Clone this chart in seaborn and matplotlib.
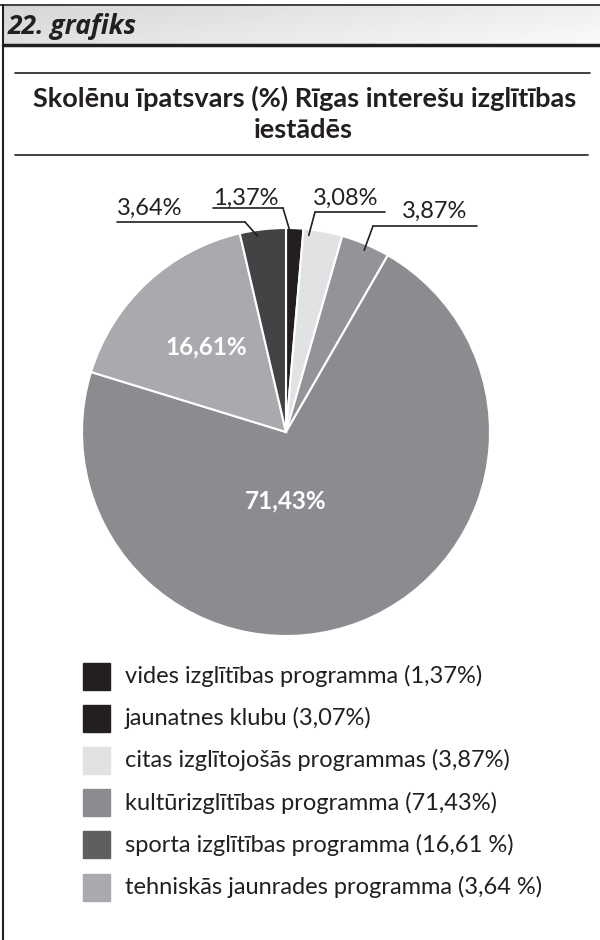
import numpy as np
import matplotlib.pyplot as plt
from matplotlib.patches import Rectangle
import seaborn as sns

# pie slices, clockwise from the top
slice_values = [1.37, 3.08, 3.87, 71.43, 16.61, 3.64]
slice_colors = ['#231f20', '#e1e2e4', '#939497', '#8b8c8f', '#a9aaad', '#424345']
outer_texts = ['1,37%', '3,08%', '3,87%', None, None, '3,64%']
inner_texts = [None, None, None, '71,43%', '16,61%', None]

legend_labels = ['vides izglītības programma (1,37%)',
                 'jaunatnes klubu (3,07%)',
                 'citas izglītojošās programmas (3,87%)',
                 'kultūrizglītības programma (71,43%)',
                 'sporta izglītības programma (16,61 %)',
                 'tehniskās jaunrades programma (3,64 %)']
legend_colors = ['#231f20', '#231f20', '#e1e2e4', '#8b8c8f', '#5e5f61', '#a9aaad']

header = '22. grafiks'
title1 = 'Skolēnu īpatsvars (%) Rīgas interešu izglītības'
title2 = 'iestādēs'

sns.set_theme(style='white')
plt.rcParams['font.family'] = ['Lato', 'DejaVu Sans']

W, H = 600, 940
def Y(y):
    return H - y

fig = plt.figure(figsize=(6, 9.4), dpi=100)
ax = fig.add_axes([0, 0, 1, 1])
ink = '#231f20'

cx, cy, R = 286, Y(432), 204
wedges, _ = ax.pie(slice_values, colors=slice_colors, startangle=90, counterclock=False,
                   center=(cx, cy), radius=R,
                   wedgeprops=dict(edgecolor='white', linewidth=1.5))
ax.set_xlim(0, W)
ax.set_ylim(0, H)
ax.set_aspect('equal')
ax.axis('off')

# header band
gx = np.linspace(0, 1, 300)
gy = np.linspace(0, 1, 40)[:, None]
grad = 0.84 + 0.10 * gx[None, :] + 0.04 * gy
ax.imshow(grad, cmap='gray', vmin=0, vmax=1, extent=(4, W, Y(44), Y(6)), aspect='auto', zorder=0)
ax.plot([0, W], [Y(5), Y(5)], color=ink, lw=1.2)
ax.plot([3, W], [Y(45), Y(45)], color=ink, lw=2.5)
ax.plot([3, 3], [Y(5), 0], color=ink, lw=1.5)
ax.text(8, Y(34), header, fontsize=19, fontweight='bold', fontstyle='italic',
        family=['Open Sans', 'DejaVu Sans'], color=ink, va='baseline')

# title
ax.plot([15, 590], [Y(73), Y(73)], color=ink, lw=1.2)
ax.plot([15, 588], [Y(155), Y(155)], color=ink, lw=1.2)
ax.text(305, Y(107), title1, ha='center', va='baseline', fontsize=19.5, fontweight='bold', color=ink)
ax.text(303, Y(138), title2, ha='center', va='baseline', fontsize=19.5, fontweight='bold', color=ink)

# outside labels: text left, baseline, underline y, underline x0, x1, elbow x, anchor fraction
outer_layout = {
    0: (213, 205, 208, 213, 283, 283, 0.28),
    1: (313, 205, 212, 315, 385, 315, 0.15),
    2: (402, 218, 226, 373, 477, 373, 0.52),
    5: (117, 215, 222, 117, 245, 245, 0.37),
}
for i, (w, txt) in enumerate(zip(wedges, outer_texts)):
    if txt is None:
        continue
    tx, tb, uy, ux0, ux1, ex, f = outer_layout[i]
    a = np.deg2rad(w.theta2 - f * (w.theta2 - w.theta1))
    axp, ayp = cx + 0.97 * R * np.cos(a), cy + 0.97 * R * np.sin(a)
    ax.plot([ux0, ux1], [Y(uy), Y(uy)], color=ink, lw=1.2)
    ax.plot([ex, axp], [Y(uy), ayp], color=ink, lw=1.2)
    ax.text(tx, Y(tb), txt, fontsize=17, color=ink, va='baseline', ha='left')

# inner labels
for i, (w, txt) in enumerate(zip(wedges, inner_texts)):
    if txt is None:
        continue
    if i == 3:
        px, py = cx, cy - 0.34 * R
    else:
        a = np.deg2rad((w.theta1 + w.theta2) / 2)
        px, py = cx + 0.57 * R * np.cos(a), cy + 0.57 * R * np.sin(a)
    ax.text(px, py, txt, fontsize=17.5, fontweight='bold', color='white', ha='center', va='center')

# legend
for i, (lab, col) in enumerate(zip(legend_labels, legend_colors)):
    yc = 676 + 42.2 * i
    ax.add_patch(Rectangle((83, Y(yc) - 13.5), 27, 27, color=col))
    ax.text(125, Y(yc), lab, fontsize=17, color=ink, va='center', ha='left')

fig.savefig('out.png', dpi=100)
